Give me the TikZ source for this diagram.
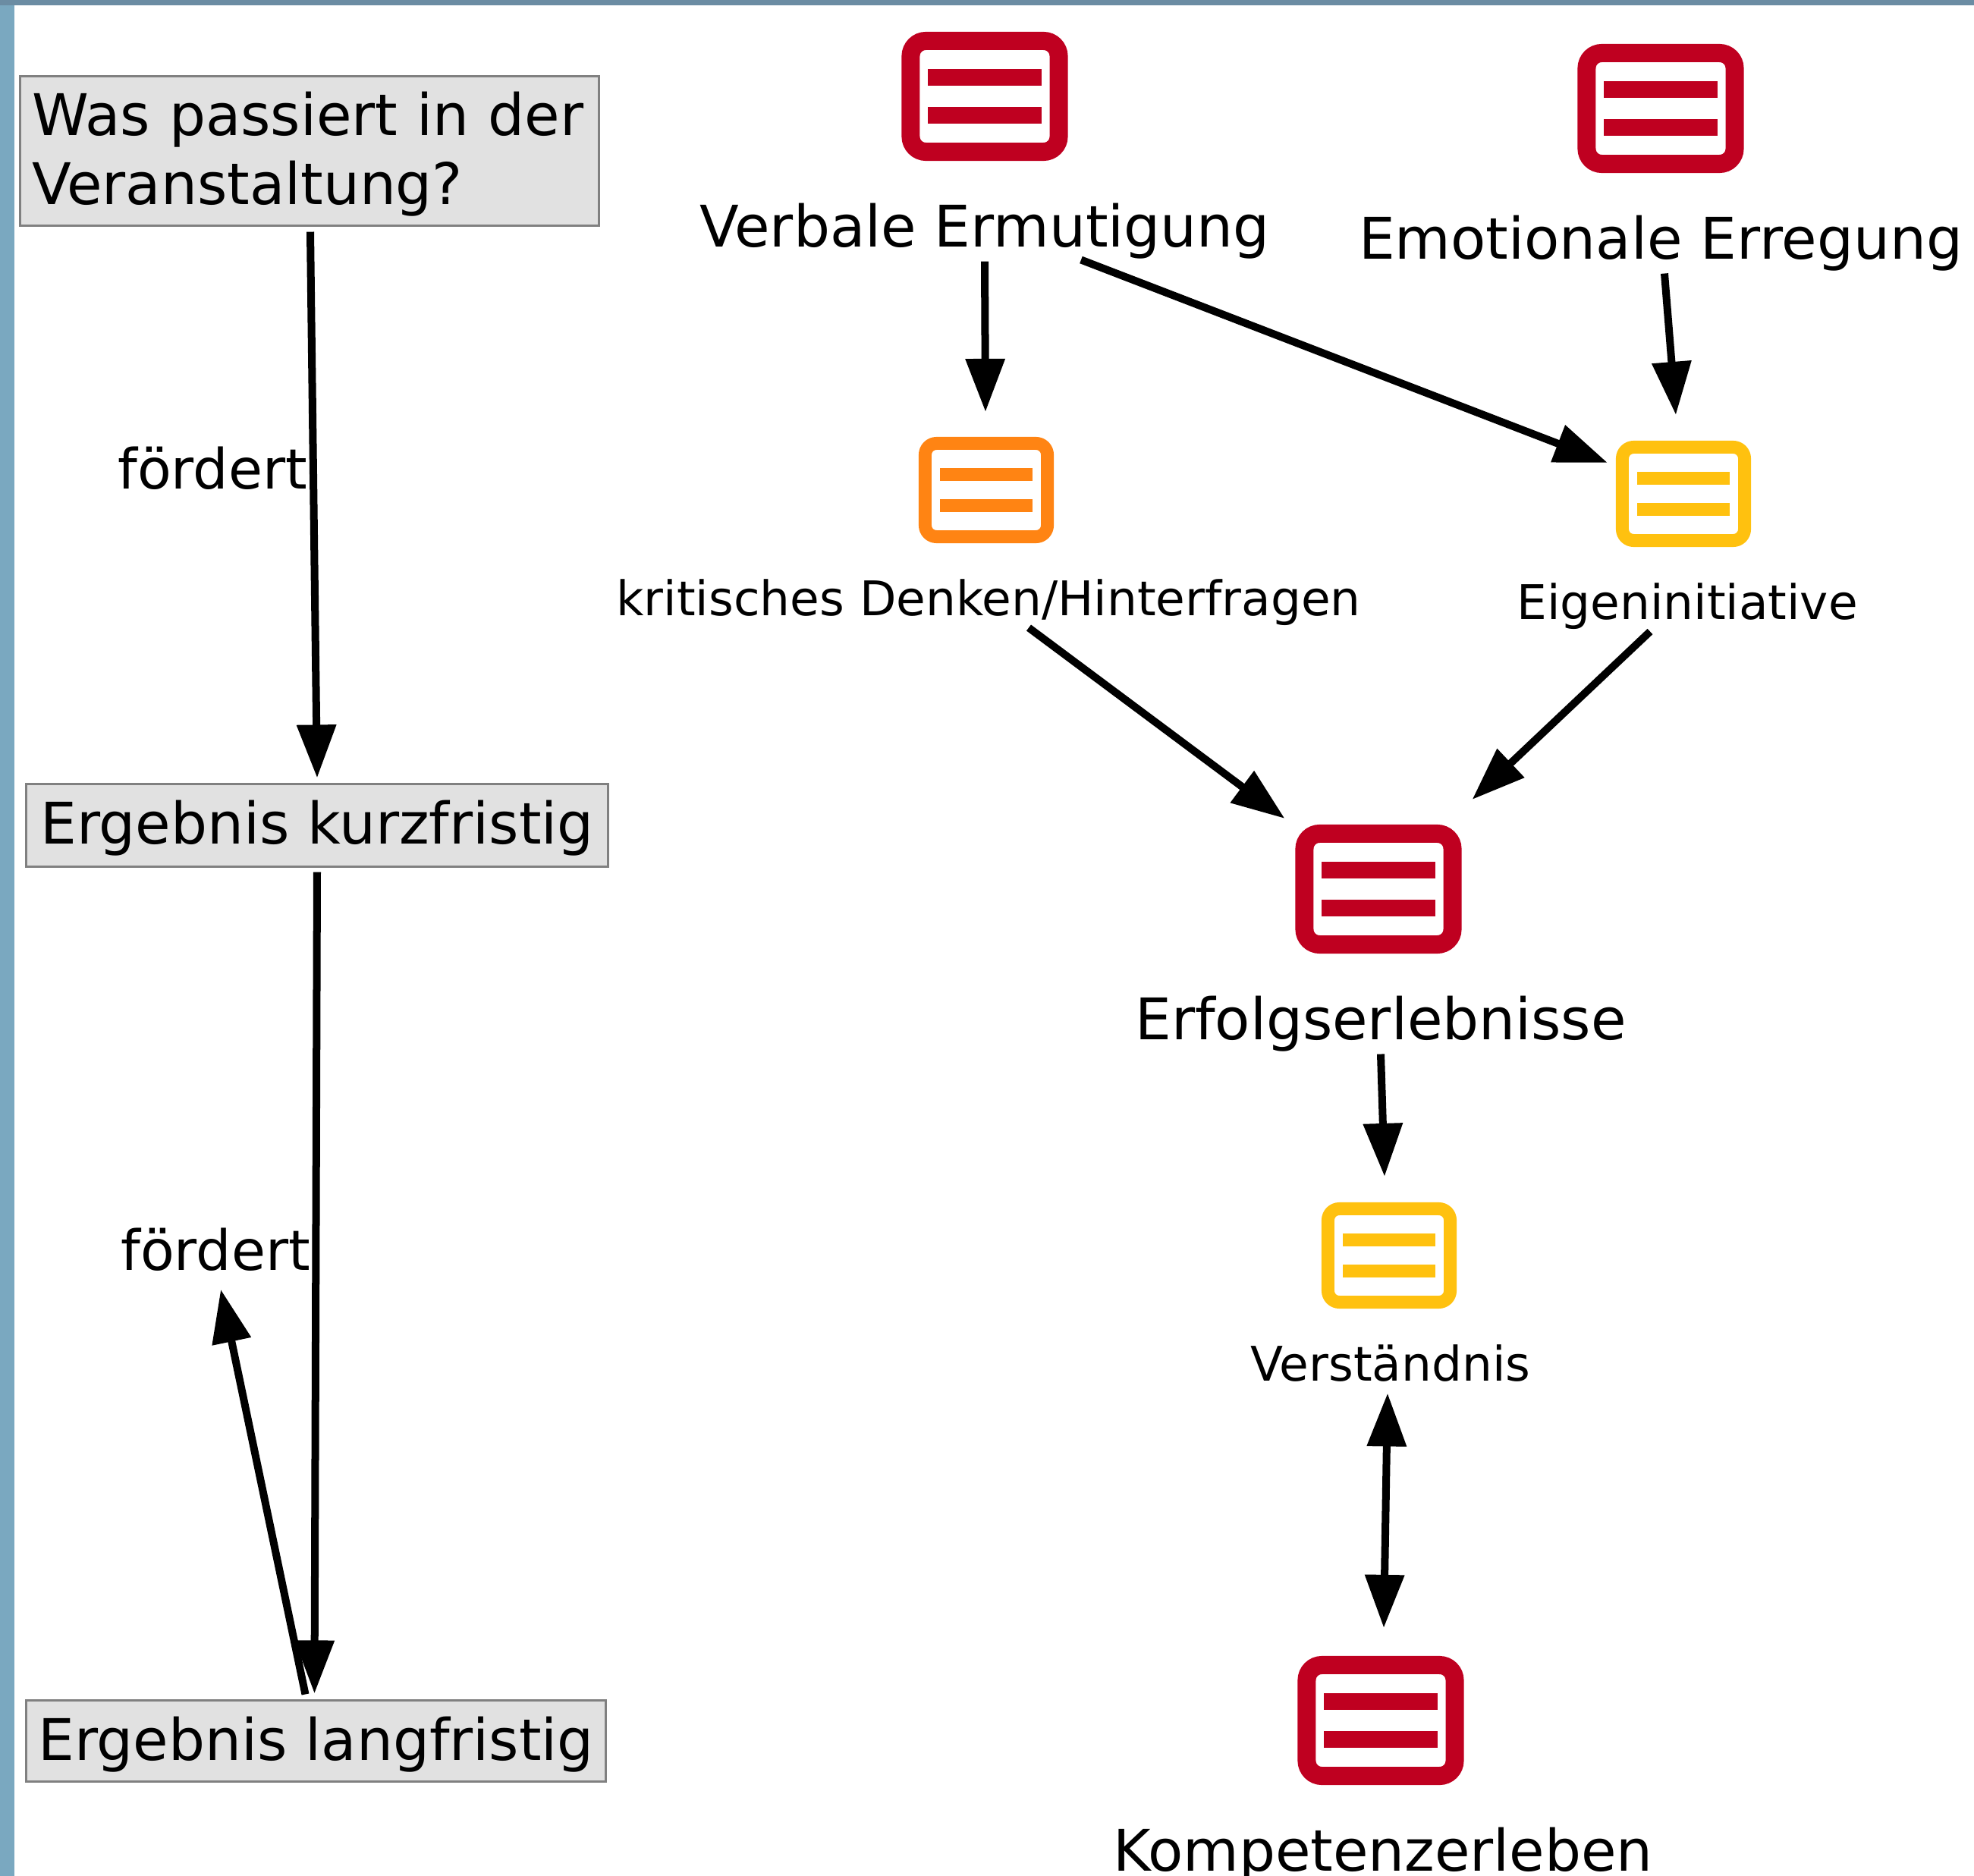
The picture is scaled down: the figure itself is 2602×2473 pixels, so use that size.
\documentclass[tikz,border=0pt]{standalone}
\usepackage{fontspec}
\setmainfont{DejaVu Sans}
\usetikzlibrary{arrows.meta, positioning}
\definecolor{redicon}{HTML}{BF0020}
\definecolor{orangeicon}{HTML}{FF8413}
\definecolor{yellowicon}{HTML}{FFC10F}
\definecolor{boxfill}{HTML}{E1E1E1}
\definecolor{boxline}{HTML}{808080}
\definecolor{topbar}{HTML}{6B8CA3}
\definecolor{sidebar}{HTML}{7AA8C0}

\tikzset{
  bigicon/.style = {draw=#1, line width=2.4mm, rounded corners=2mm, fill=white, minimum width=1.95cm, minimum height=1.46cm,
    path picture={
      \fill[#1, sharp corners] ([shift={(-75,-36)}]path picture bounding box.center) rectangle ([shift={(75,-14)}]path picture bounding box.center);
      \fill[#1, sharp corners] ([shift={(-75,14)}]path picture bounding box.center) rectangle ([shift={(75,36)}]path picture bounding box.center);
    }},
  smallicon/.style = {draw=#1, line width=1.7mm, rounded corners=1.5mm, fill=white, minimum width=1.61cm, minimum height=1.23cm,
    path picture={
      \fill[#1, sharp corners] ([shift={(-61,-29)}]path picture bounding box.center) rectangle ([shift={(61,-12)}]path picture bounding box.center);
      \fill[#1, sharp corners] ([shift={(-61,12)}]path picture bounding box.center) rectangle ([shift={(61,29)}]path picture bounding box.center);
    }},
  biglabel/.style = {inner sep=0pt, text height=6mm, text depth=2mm, font=\fontsize{21.5}{26}\selectfont},
  smalllabel/.style = {inner sep=0pt, text height=5mm, text depth=1.7mm, font=\fontsize{17.9}{22}\selectfont},
  graybox/.style = {draw=boxline, fill=boxfill, line width=0.3mm, inner sep=0pt, font=\fontsize{21.5}{25.6}\selectfont},
  conn/.style = {line width=1mm},
}

\begin{document}
\begin{tikzpicture}[x=0.01cm, y=-0.01cm, >={Triangle[length=7mm, width=5mm]}]

      \useasboundingbox (0,0) rectangle (2602,2473);
      \fill[topbar] (0,0) rectangle (2602,7);
      \fill[sidebar] (0,7) rectangle (19,2473);

      % Left column
      \node[graybox, minimum width=7.63cm, minimum height=1.96cm, align=left, text width=7.31cm, text height=6mm, text depth=10mm] (was) at (408,199) {Was passiert in der\\Veranstaltung?};
      \node[graybox, minimum width=7.66cm, minimum height=1.08cm, text height=6mm, text depth=1.2mm] (kurz) at (418,1088) {Ergebnis kurzfristig};
      \node[graybox, minimum width=7.63cm, minimum height=1.06cm, text height=6.2mm, text depth=1.2mm] (lang) at (416.5,2295) {Ergebnis langfristig};
      \node[anchor=base, inner sep=0pt, font=\fontsize{20.8}{24}\selectfont] (foerdertA) at (280,645) {fördert};
      \node[anchor=base, inner sep=0pt, font=\fontsize{20.8}{24}\selectfont] (foerdertB) at (284,1674) {fördert};

      % Icons and labels
      \node[bigicon=redicon] (verbalicon) at (1298,127) {};
      \node[biglabel, below=5.3mm of verbalicon] (verbal) {Verbale Ermutigung};
      \node[bigicon=redicon] (emoicon) at (2189,143) {};
      \node[biglabel, below=5.3mm of emoicon] (emo) {Emotionale Erregung};
      \node[smallicon=orangeicon] (kritikicon) at (1300,646) {};
      \node[smalllabel, below=4.5mm of kritikicon, xshift=.3mm] (kritik) {kritisches Denken/Hinterfragen};
      \node[smallicon=yellowicon] (eigenicon) at (2219,651) {};
      \node[smalllabel, below=4.5mm of eigenicon, xshift=.5mm] (eigen) {Eigeninitiative};
      \node[bigicon=redicon] (erfolgicon) at (1817,1172) {};
      \node[biglabel, below=5.3mm of erfolgicon, xshift=.3mm] (erfolg) {Erfolgserlebnisse};
      \node[smallicon=yellowicon] (verstandicon) at (1831,1655) {};
      \node[smalllabel, below=4.5mm of verstandicon, xshift=.2mm] (verstand) {Verständnis};
      \node[bigicon=redicon] (kompicon) at (1820,2268) {};
      \node[biglabel, below=5.3mm of kompicon, xshift=.3mm] (komp) {Kompetenzerleben};

      % Left arrows
      \draw[conn, ->] ([shift={(1,7)}]was.south) -- ([shift={(0,-7)}]kurz.north);
      \draw[conn, ->] ([shift={(0,6)}]kurz.south) -- ([shift={(-2,-8)}]lang.north);
      \draw[conn, ->] ([shift={(-14,-7)}]lang.north) -- ([shift={(7,24)}]foerdertB.south);

      % Right arrows
      \draw[conn, ->] ([shift={(0,-2)}]verbal.south) -- ([shift={(-1,-33)}]kritikicon.north);
      \draw[conn, ->] ([shift={(127,-4)}]verbal.south) -- ([shift={(-11,29)}]eigenicon.north west);
      \draw[conn, ->] ([shift={(5,-2)}]emo.south) -- ([shift={(-10,-34)}]eigenicon.north);
      \draw[conn, ->] ([shift={(53,-2)}]kritik.south) -- ([shift={(-14,-8)}]erfolgicon.north west);
      \draw[conn, ->] ([shift={(-49,-2)}]eigen.south) -- ([shift={(14,-33)}]erfolgicon.north east);
      \draw[conn, ->] ([shift={(0,-2)}]erfolg.south) -- ([shift={(-6,-34)}]verstandicon.north);
      \draw[conn, <->] ([shift={(-4,-2)}]verstand.south) -- ([shift={(4,-37)}]kompicon.north);

    \end{tikzpicture}
\end{document}
